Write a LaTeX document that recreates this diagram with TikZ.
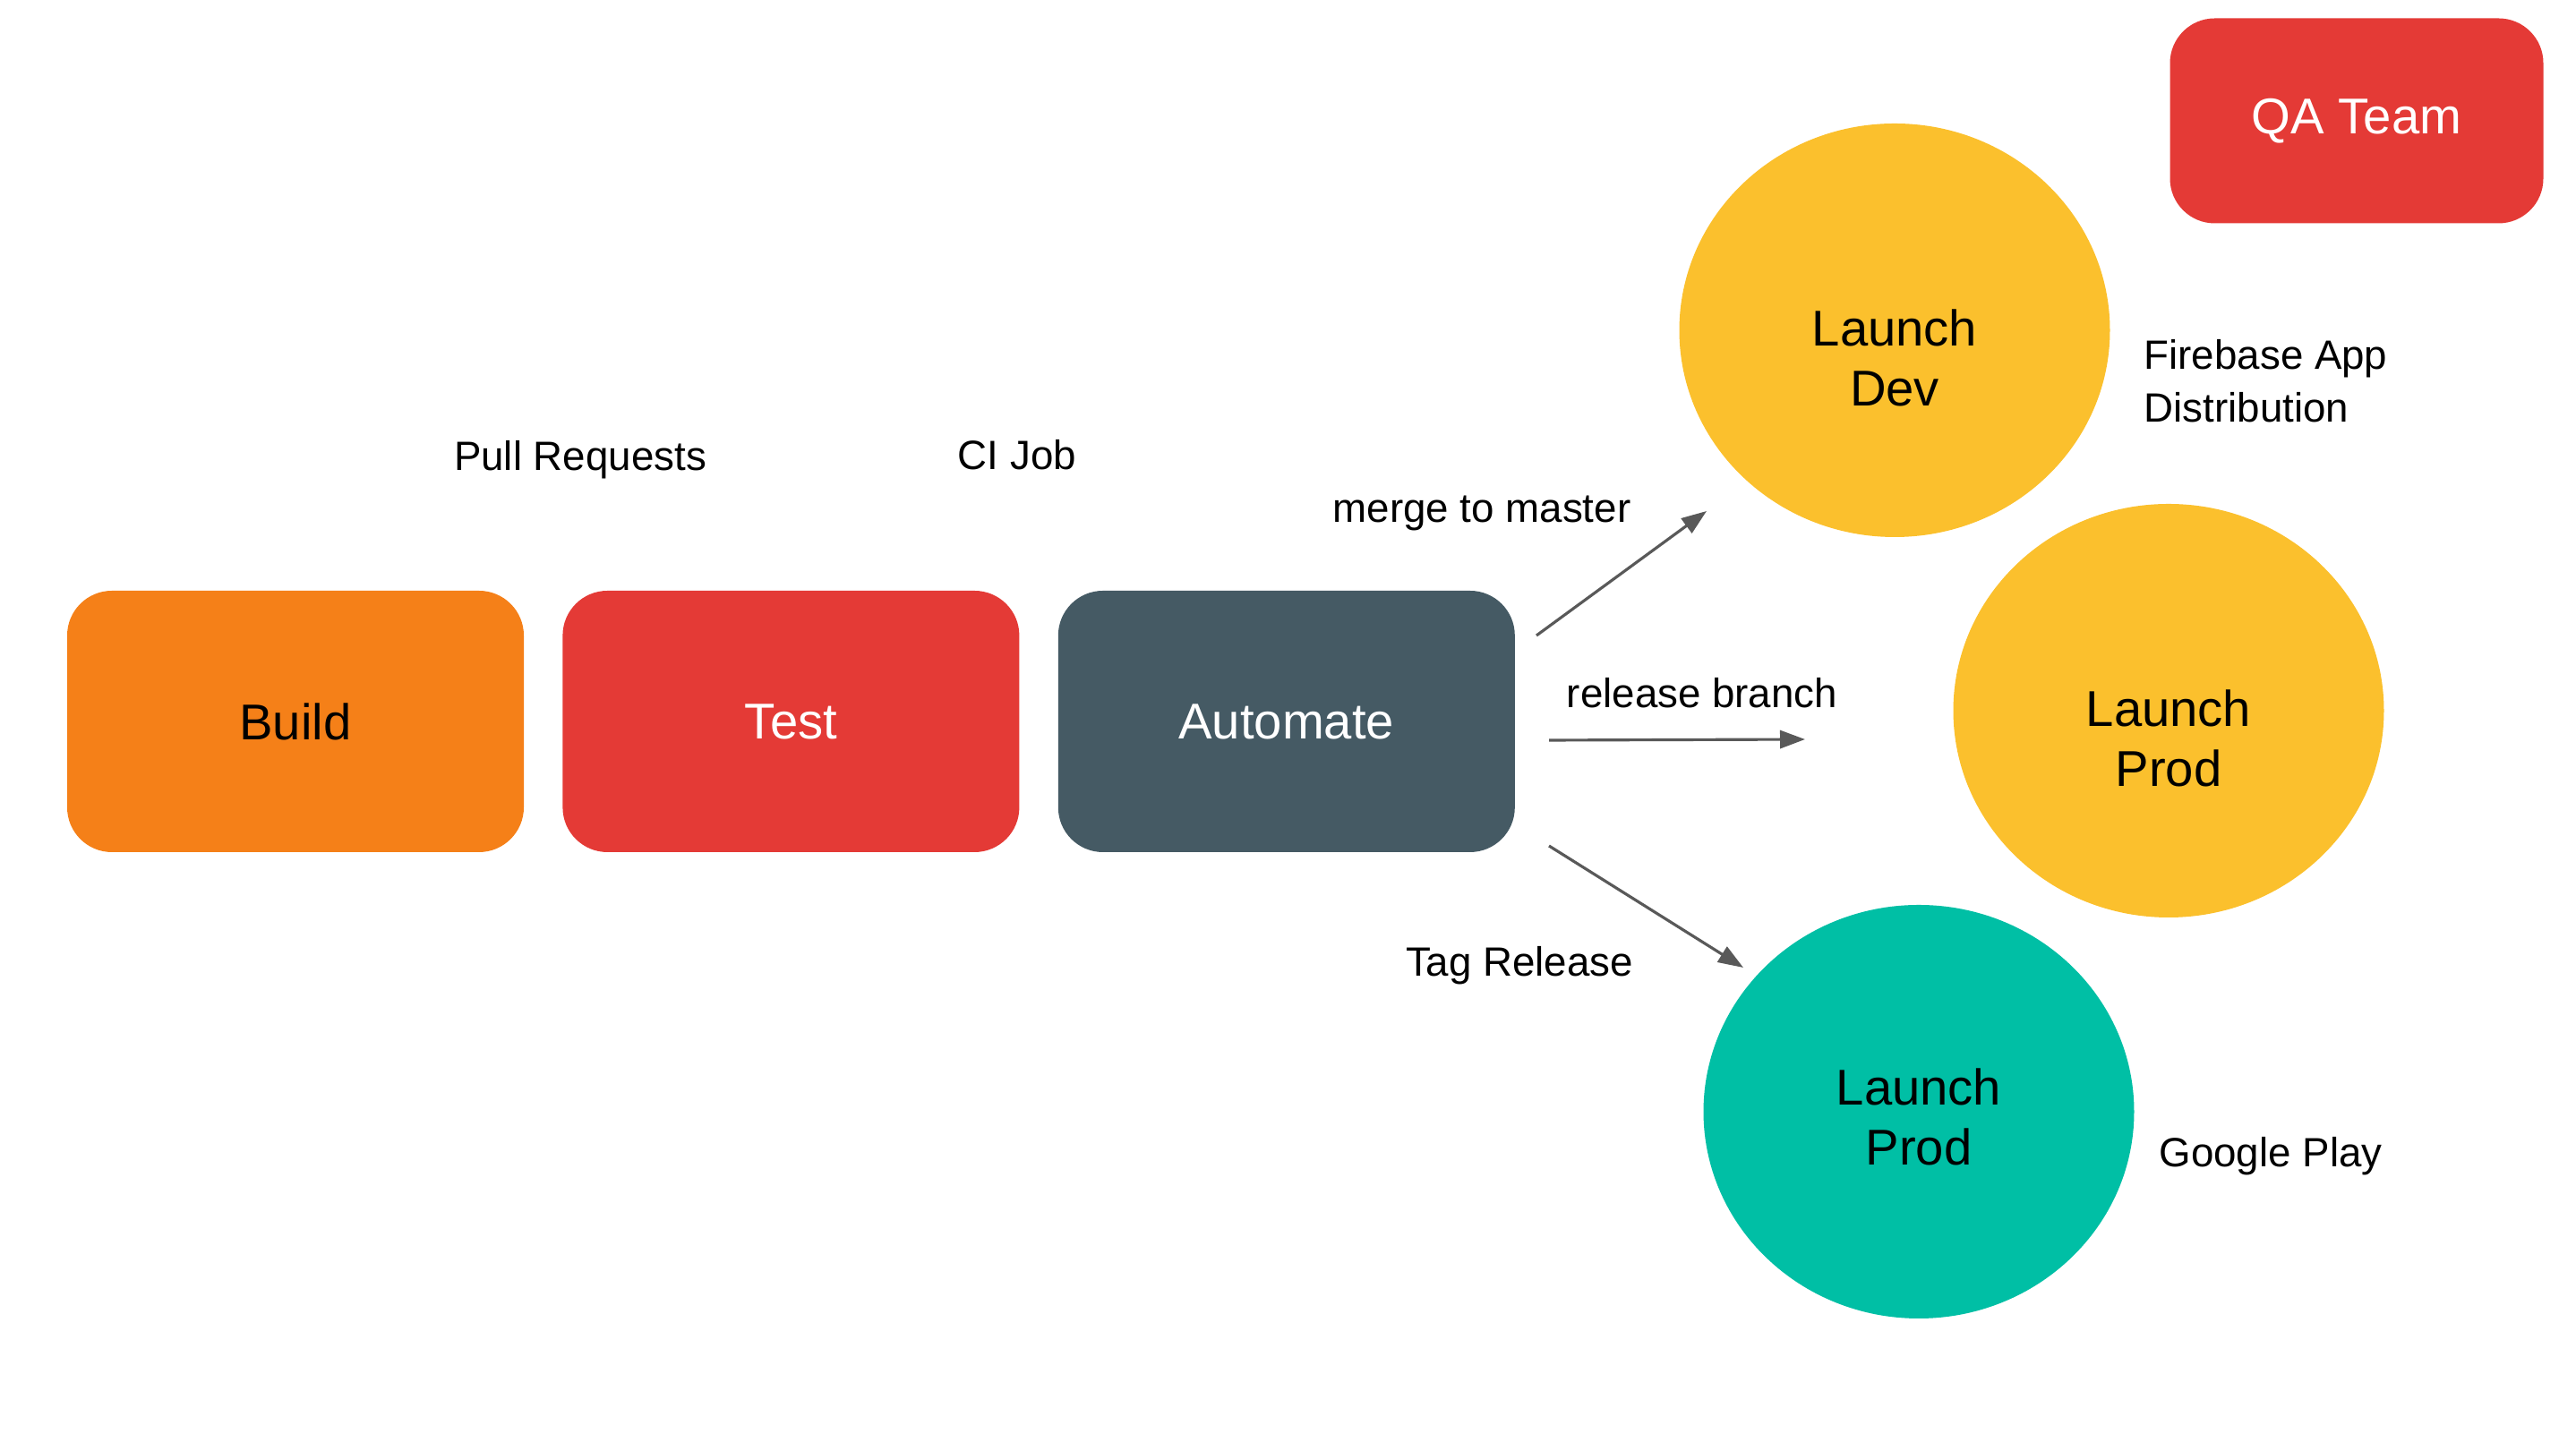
\documentclass[tikz,border=0pt]{standalone}
\usepackage{fontspec}
\setmainfont{Liberation Sans}
\usepackage{tikz}
\usetikzlibrary{shapes.geometric, arrows.meta, positioning}
\definecolor{buildorange}{RGB}{245, 128, 24}
\definecolor{testred}{RGB}{228, 58, 54}
\definecolor{autoslate}{RGB}{69, 90, 100}
\definecolor{launchyellow}{RGB}{251, 192, 45}
\definecolor{launchteal}{RGB}{0, 191, 165}
\definecolor{arrowgray}{RGB}{89, 89, 89}
\tikzstyle{stage} = [rectangle, minimum width=5.1cm, minimum height=2.92cm, rounded corners=0.5cm, align=center, font=\fontsize{16}{19}\selectfont]
\tikzstyle{launch} = [ellipse, fill=launchyellow, minimum width=4.81cm, minimum height=4.62cm, align=center, text height=1.7cm, font=\fontsize{16}{19}\selectfont]
\tikzstyle{note} = [align=left, inner sep=0pt, font=\fontsize{13}{16.7}\selectfont]
\tikzstyle{line} = [draw, -{Triangle[length=2.8mm, width=2mm]}, line width=0.9pt, arrowgray]

\begin{document}
\begin{tikzpicture}[node distance=0.42cm]
    \useasboundingbox (0,0) rectangle (28.77,16.11);
    % Pipeline
    \node (build) [stage, fill=buildorange] at (3.30,8.05) {Build};
    \node (test) [stage, fill=testred, text=white, right=of build] {Test};
    \node (automate) [stage, fill=autoslate, text=white, right=of test] {Automate};
    \node (qateam) [stage, fill=testred, text=white, minimum width=4.17cm, minimum height=2.29cm] at (26.32,14.76) {QA Team};

    % Launches
    \node (launchdev) [launch] at (21.16,12.42) {Launch\\Dev};
    \node (launchbeta) [launch] at (24.22,8.17) {Launch\\Prod};
    \node (launchprod) [launch, fill=launchteal, text height=1.2cm] at (21.43,3.69) {Launch\\Prod};

    % Labels
    \node (prlabel) [note] at (6.48,10.97) {Pull Requests};
    \node (cilabel) [note] at (11.36,11.03) {CI Job};
    \node (mergelabel) [note] at (16.55,10.38) {merge to master};
    \node (branchlabel) [note] at (19.01,8.37) {release branch};
    \node (taglabel) [note] at (16.97,5.32) {Tag Release};
    \node (firebase) [note, anchor=west] at (23.94,11.85) {Firebase App\\Distribution};
    \node (play) [note] at (25.36,3.19) {Google Play};

    % Paths
    \coordinate (devtail) at (17.16,9.01);
    \coordinate (devhead) at (19.06,10.40);
    \coordinate (betatail) at (17.30,7.84);
    \coordinate (betahead) at (20.16,7.85);
    \coordinate (prodtail) at (17.30,6.66);
    \coordinate (prodhead) at (19.47,5.30);
    \draw [line] (devtail) -- (devhead);
    \draw [line] (betatail) -- (betahead);
    \draw [line] (prodtail) -- (prodhead);
\end{tikzpicture}
\end{document}
